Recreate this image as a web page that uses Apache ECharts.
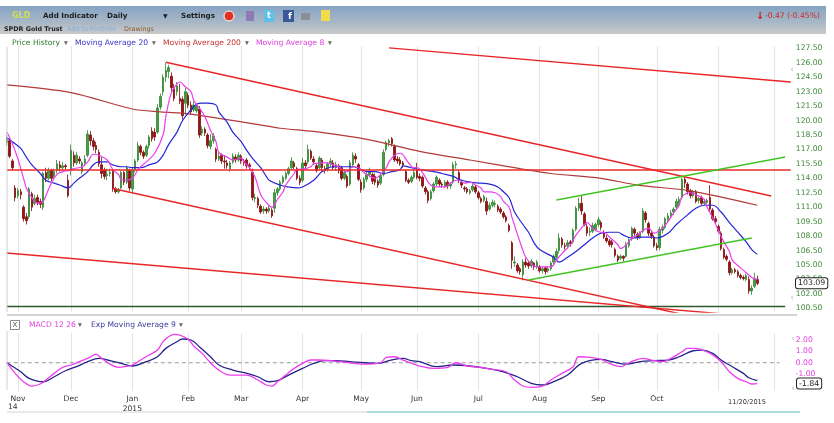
<!DOCTYPE html>
<html>
<head>
<meta charset="utf-8">
<script src="https://cdn.jsdelivr.net/npm/echarts@6/dist/echarts.min.js"></script>
<style>
html,body{margin:0;padding:0;background:#fff}
#main{width:834px;height:423px}
</style>
</head>
<body>
<div id="main"></div>
<script>
// GLD daily, 2014-10-28 .. 2015-11-20
var holidays = ['2014-11-27','2014-12-25','2015-01-01','2015-01-19','2015-02-16',
  '2015-04-03','2015-05-25','2015-07-03','2015-09-07','2015-11-26'];
var months = ['Jan','Feb','Mar','Apr','May','Jun','Jul','Aug','Sep','Oct','Nov','Dec'];

var opens = [
  117.7,117.9,115.8,113.0,112.2,112.6,111.0,110.0,110.0,112.4,
  111.4,112.0,111.6,111.0,114.6,114.0,114.8,114.2,114.8,115.4,
  115.1,115.3,113.8,114.9,116.4,115.6,116.0,114.7,115.6,116.4,
  118.5,117.9,117.4,116.7,115.4,114.8,114.3,114.5,114.7,112.9,
  112.6,113.0,114.6,113.6,114.8,112.9,114.9,115.9,117.3,116.7,
  116.4,117.4,118.9,118.8,118.8,121.4,123.0,124.5,125.1,124.6,
  123.3,123.0,122.3,122.2,121.8,122.6,121.6,121.1,121.0,121.2,
  118.7,119.1,118.5,117.3,117.9,117.0,116.0,116.4,115.8,115.6,
  115.0,115.7,116.2,115.9,116.3,115.8,115.9,115.4,114.6,111.9,
  111.9,111.1,110.6,110.8,110.6,110.7,110.9,112.5,112.9,113.6,
  114.0,114.5,115.1,115.6,115.0,114.0,113.8,115.6,115.7,116.8,
  116.0,115.3,115.1,115.9,115.0,114.9,115.5,115.6,115.1,115.3,
  115.1,114.0,114.2,113.4,115.4,116.3,115.4,113.6,113.0,113.9,
  114.4,114.4,114.2,113.7,113.5,114.4,117.0,117.7,118.1,117.3,
  116.0,115.9,115.6,114.7,113.8,113.7,114.1,114.8,114.2,114.1,
  113.0,112.6,111.9,112.7,113.4,113.8,113.4,113.2,113.6,113.2,
  113.6,115.4,114.6,113.6,113.0,112.9,112.5,112.8,113.1,112.5,
  111.9,111.7,111.6,110.8,111.2,111.3,111.1,110.8,110.4,110.0,
  109.1,107.3,105.2,105.0,104.6,104.0,105.3,105.2,104.9,105.2,
  104.8,104.8,104.4,104.7,104.4,104.6,105.3,105.8,106.5,107.7,
  107.0,107.0,107.4,107.4,108.7,110.9,111.4,110.3,109.0,108.4,
  108.5,108.7,109.2,109.4,108.4,107.8,107.5,107.4,106.6,105.9,
  105.7,105.9,105.9,107.0,107.7,108.7,108.2,107.9,108.5,110.4,
  109.3,108.3,107.9,107.0,106.8,108.6,108.9,109.7,110.1,110.5,
  111.0,111.4,112.0,113.9,113.4,112.7,112.2,112.6,111.7,112.0,
  111.4,111.5,112.0,110.7,109.8,109.0,108.3,106.6,105.9,105.3,
  104.2,104.5,104.3,103.9,103.7,103.5,103.5,102.3,102.8,103.5
];
var closes = [
  118.2,116.3,115.1,112.0,112.7,112.3,109.8,109.6,112.9,111.0,
  111.9,111.5,111.3,114.5,114.0,114.8,114.0,114.7,115.5,115.1,
  115.3,115.2,112.2,116.9,115.6,116.4,115.8,115.6,116.0,118.6,
  117.9,117.3,117.0,115.5,114.5,114.2,114.4,114.6,112.9,112.6,
  112.8,114.6,113.6,115.1,113.0,114.8,115.8,117.4,116.7,116.3,
  117.3,118.3,118.1,118.3,121.3,122.5,124.5,125.2,125.5,123.4,
  122.3,123.6,122.0,120.5,123.0,121.6,120.9,121.6,121.5,118.5,
  119.1,118.7,117.4,117.9,118.4,116.0,116.3,115.8,115.7,115.3,
  115.6,116.3,115.9,116.4,115.8,115.6,115.3,115.2,112.0,112.0,
  111.2,110.5,110.8,110.6,110.9,110.1,112.5,112.9,113.6,114.1,
  114.5,115.0,115.8,115.2,114.0,113.6,115.6,115.3,117.0,116.1,
  115.7,114.8,116.1,115.1,114.8,115.5,115.8,115.1,115.4,114.8,
  114.0,114.6,113.2,115.6,116.4,116.0,113.9,112.8,113.9,114.4,
  114.7,113.7,113.6,113.3,114.3,116.7,117.7,117.9,117.6,115.9,
  115.8,115.5,115.4,113.8,113.6,114.1,114.6,114.1,114.0,113.2,
  112.6,111.7,112.6,113.4,114.1,113.4,113.3,113.6,113.2,113.4,
  115.4,115.5,113.8,113.3,112.9,112.6,112.7,113.2,112.6,112.0,
  111.6,112.1,110.6,111.2,111.5,111.4,110.7,110.5,110.0,109.6,
  108.6,105.5,105.3,104.4,104.3,105.3,105.0,104.9,105.4,104.8,
  105.3,104.4,104.6,104.3,104.6,105.2,105.9,106.4,107.8,107.1,
  106.9,107.3,107.2,108.6,110.9,111.4,110.6,109.2,108.3,108.5,
  109.1,109.2,109.7,108.9,107.9,107.5,107.1,107.1,106.0,105.5,
  105.9,105.7,107.1,107.6,108.8,108.3,107.9,108.3,110.6,109.7,
  108.3,108.0,107.0,106.8,108.7,108.9,109.8,110.1,110.4,110.8,
  111.6,111.8,113.9,113.5,112.6,112.2,112.6,111.6,111.9,111.4,
  111.6,111.7,110.8,109.8,109.5,108.5,106.7,105.8,105.6,104.2,
  104.5,104.3,103.9,103.7,103.6,103.9,102.3,102.6,103.56,103.09
];
var lows = [
  117.4,116.1,114.8,111.6,111.9,111.8,109.5,109.2,109.8,110.6,
  111.2,111.2,110.9,110.7,113.6,113.8,113.7,113.9,114.5,114.7,
  114.8,114.9,112.0,114.3,115.2,115.4,115.5,114.4,115.3,116.2,
  117.4,116.9,116.6,115.2,114.0,113.9,113.8,114.2,112.6,112.4,
  112.4,112.9,113.3,113.4,112.7,112.5,114.6,115.7,116.4,116.0,
  116.2,117.1,117.8,117.9,118.6,121.1,122.6,124.0,124.4,122.9,
  122.0,122.6,121.7,120.1,120.6,121.3,120.6,120.9,120.8,118.2,
  118.4,118.4,117.1,117.0,117.6,115.7,115.8,115.5,115.0,115.0,
  114.7,115.5,115.6,115.7,115.5,115.3,115.0,114.9,111.7,111.5,
  110.9,110.3,110.3,110.3,110.4,109.9,110.4,112.2,112.7,113.4,
  113.8,114.3,114.9,114.9,113.8,113.3,113.6,115.0,115.5,115.9,
  115.4,114.6,114.9,114.8,114.5,114.7,115.2,114.9,114.8,114.5,
  113.8,113.8,113.0,113.2,115.1,115.6,113.7,112.5,112.8,113.6,
  114.1,113.4,113.3,113.0,113.3,114.2,116.8,117.3,117.3,115.7,
  115.5,115.3,115.1,113.6,113.4,113.5,113.9,113.9,113.7,113.0,
  112.3,111.4,111.7,112.5,113.2,113.1,113.0,113.0,112.9,112.9,
  113.4,115.0,113.5,113.0,112.6,112.4,112.3,112.6,112.4,111.8,
  111.4,111.5,110.2,110.6,111.0,111.0,110.5,110.3,109.8,109.4,
  108.4,104.6,104.8,104.2,104.0,103.4,104.7,104.6,104.7,104.5,
  104.6,104.2,104.1,104.0,104.2,104.4,105.1,105.6,106.2,106.8,
  106.6,106.7,106.9,107.2,108.5,110.6,110.2,109.0,108.0,108.0,
  108.3,108.5,109.0,108.6,107.7,107.3,106.9,106.8,105.8,105.3,
  105.5,105.4,105.8,106.8,107.5,108.0,107.6,107.7,108.3,109.4,
  108.0,107.7,106.8,106.5,106.5,108.3,108.7,109.4,109.8,110.2,
  110.8,111.1,111.8,113.0,112.3,111.9,112.0,111.4,111.4,111.2,
  111.2,111.2,110.5,109.6,109.3,108.3,106.5,105.6,105.4,103.9,
  104.0,104.1,103.7,103.5,103.4,103.3,102.0,101.9,102.6,102.9
];
var highs = [
  118.5,118.1,116.0,113.3,113.0,112.9,111.2,110.4,113.1,112.6,
  112.3,112.3,111.9,114.7,115.1,115.1,115.0,115.0,115.9,115.8,
  115.7,115.5,114.4,117.5,116.8,116.7,116.3,115.8,116.4,119.0,
  118.9,118.2,117.8,117.0,116.2,115.1,115.0,115.0,114.9,113.1,
  113.0,114.8,114.8,115.3,115.0,115.2,116.0,117.8,117.5,116.9,
  117.5,118.5,119.3,119.2,121.7,122.8,124.8,126.0,125.8,125.0,
  123.8,124.0,123.8,122.5,123.4,122.9,122.0,122.0,121.8,121.5,
  119.4,119.3,118.7,118.6,118.7,117.2,116.7,116.6,116.4,115.9,
  115.8,116.6,116.5,116.7,116.5,116.0,116.1,115.6,115.0,112.4,
  112.1,111.3,111.1,111.0,111.2,110.9,112.9,113.1,113.8,114.3,
  114.7,115.2,116.2,115.8,115.2,114.3,116.1,115.9,117.5,117.0,
  116.3,115.5,116.3,116.1,115.3,115.7,116.1,115.9,115.7,115.5,
  115.3,114.9,114.4,115.9,116.7,116.6,115.6,113.9,114.1,114.7,
  115.1,114.6,114.5,113.9,114.5,117.0,117.9,118.1,118.3,117.5,
  116.3,116.2,115.8,114.9,114.0,114.3,115.0,115.6,114.5,114.3,
  113.2,112.8,112.8,113.6,114.3,114.0,113.6,113.8,113.8,113.6,
  115.7,115.8,114.8,113.8,113.2,113.1,112.9,113.4,113.3,112.7,
  112.1,112.3,112.0,111.5,111.8,111.7,111.3,111.0,110.6,110.2,
  109.3,107.5,105.9,105.2,104.8,105.6,105.7,105.4,105.6,105.3,
  105.5,105.0,104.8,104.9,104.8,105.4,106.1,106.7,108.3,107.9,
  107.3,107.6,107.6,108.8,111.1,112.0,112.2,110.5,109.3,108.9,
  109.4,109.4,110.0,109.6,108.6,108.1,107.7,107.6,106.8,106.1,
  106.1,106.0,107.4,107.9,109.0,108.9,108.4,108.5,110.9,110.6,
  109.5,108.5,108.1,107.3,109.0,109.2,110.0,110.4,110.7,111.0,
  111.9,112.1,114.1,114.2,113.6,112.9,112.8,112.8,112.1,112.2,
  111.8,111.9,113.3,110.9,110.1,109.2,108.5,106.8,106.1,105.5,
  104.7,104.7,104.5,104.1,103.9,104.1,103.8,102.9,104.2,103.9
];

// indicator readings as [day index, value]
var ma8Pts = [[0,118.8],[2,117.6],[4,116.0],[6,114.0],[7,113.0],[9,112.0],[11,111.4],[13,111.6],
  [14,112.2],[16,113.5],[18,114.4],[20,114.7],[22,114.8],[24,115.0],[27,115.2],[29,115.7],[31,116.5],
  [33,116.4],[36,115.9],[38,114.9],[40,114.4],[41,113.9],[43,113.8],[45,114.0],[47,114.9],[48,115.2],
  [50,115.7],[53,116.6],[56,118.5],[57,120.4],[59,122.9],[61,123.8],[62,124.0],[64,123.5],[66,123.0],
  [67,122.1],[69,121.3],[71,120.4],[73,119.0],[75,117.8],[76,116.7],[79,116.2],[81,115.9],[84,116.1],
  [85,115.7],[87,115.1],[89,114.1],[91,112.3],[93,111.5],[95,111.0],[97,111.8],[99,112.6],[100,113.3],
  [103,114.5],[104,114.9],[107,115.0],[109,115.2],[110,115.5],[113,115.6],[115,115.6],[117,115.4],
  [119,115.2],[120,114.9],[122,114.7],[124,115.2],[126,115.1],[128,114.6],[129,114.4],[132,114.0],
  [134,114.4],[136,115.1],[137,115.7],[139,116.4],[141,116.6],[144,115.6],[146,115.1],[147,115.1],
  [149,114.6],[151,113.6],[152,113.3],[154,113.1],[157,113.1],[159,113.5],[161,113.8],[162,113.8],
  [164,113.5],[166,113.6],[168,113.3],[170,113.0],[171,112.6],[173,112.6],[175,112.5],[177,112.1],
  [178,111.6],[180,111.0],[181,110.0],[183,108.2],[185,106.5],[186,105.8],[188,105.1],[190,104.8],
  [191,104.8],[195,104.8],[197,105.5],[199,106.2],[202,107.1],[204,108.1],[207,109.2],[208,109.4],
  [210,108.8],[213,108.4],[214,108.4],[216,107.9],[219,107.1],[220,106.7],[222,107.1],[224,107.8],
  [226,108.1],[228,108.6],[230,108.8],[232,108.3],[233,108.4],[235,108.8],[237,109.5],[239,110.4],
  [241,111.2],[242,112.1],[245,112.5],[247,112.3],[250,111.8],[251,111.0],[253,109.9],[255,108.6],
  [257,107.4],[259,106.4],[260,105.5],[263,104.7],[265,104.2],[267,103.7],[269,103.5]];
var ma20Pts = [[0,118.2],[2,117.8],[5,117.1],[7,116.2],[9,115.4],[12,114.5],[14,113.8],[17,113.5],
  [19,113.3],[22,113.0],[24,113.5],[26,114.0],[29,114.7],[31,115.4],[33,115.7],[36,115.7],[38,115.4],
  [41,115.2],[43,115.2],[45,115.1],[48,115.1],[51,115.4],[54,115.7],[56,116.4],[58,117.5],[61,118.8],
  [63,120.0],[66,121.1],[68,121.7],[70,121.8],[72,121.8],[75,121.6],[76,120.9],[79,119.8],[81,118.8],
  [84,117.8],[86,116.9],[88,116.1],[91,115.1],[93,114.2],[94,113.8],[98,113.3],[101,113.1],[104,113.0],
  [106,113.1],[110,113.8],[113,114.7],[117,115.2],[120,115.2],[124,115.2],[127,114.9],[129,114.7],
  [132,114.7],[135,114.5],[138,114.7],[141,114.9],[142,115.3],[145,115.1],[148,114.9],[153,114.7],
  [156,114.5],[160,114.2],[162,113.9],[166,113.6],[170,113.5],[173,113.4],[176,113.1],[178,112.6],
  [180,112.0],[182,110.5],[185,109.2],[187,108.4],[189,107.3],[191,106.6],[196,105.8],[198,105.3],
  [201,105.8],[204,106.4],[207,107.1],[210,107.8],[213,108.3],[216,108.4],[219,108.4],[221,108.1],
  [224,107.8],[228,107.9],[231,107.9],[233,107.8],[237,108.3],[240,109.2],[244,110.2],[247,110.9],
  [250,111.2],[253,111.2],[256,110.5],[259,109.4],[262,108.4],[265,107.4],[267,106.6],[269,106.1]];
var ma200Pts = [[0,123.7],[23,122.9],[45,121.2],[55,120.9],[65,120.7],[72,120.4],[94,119.4],[98,119.2],
  [112,118.8],[130,118.0],[148,116.8],[166,115.9],[184,115.0],[195,114.5],[213,114.0],[226,113.3],
  [245,112.7],[269,111.2]];
var macdPts = [[0,0.0],[3,-0.94],[6,-1.68],[9,-2.06],[12,-1.88],[14,-1.53],[17,-0.94],[20,-0.41],
  [23,-0.2],[26,0.09],[29,0.39],[32,0.74],[34,0.39],[37,-0.12],[40,-0.41],[42,-0.35],[45,-0.2],
  [48,0.24],[51,0.68],[54,1.12],[56,1.86],[58,2.3],[60,2.51],[62,2.45],[65,2.07],[67,1.48],[70,0.83],
  [73,0.0],[76,-0.65],[80,-1.09],[84,-1.09],[86,-1.09],[90,-1.53],[93,-1.97],[95,-2.06],[97,-1.68],
  [100,-1.09],[103,-0.5],[106,-0.06],[109,0.24],[112,0.24],[116,0.18],[119,0.09],[123,0.0],
  [127,-0.12],[130,-0.12],[134,0.0],[136,0.47],[139,0.53],[142,0.24],[146,-0.12],[148,-0.29],
  [153,-0.5],[158,-0.41],[161,0.0],[165,-0.29],[170,-0.41],[174,-0.59],[179,-0.8],[182,-1.53],
  [185,-2.06],[188,-2.18],[192,-2.06],[195,-1.53],[199,-0.94],[203,-0.35],[205,0.53],[209,0.47],
  [213,0.3],[216,-0.06],[220,-0.35],[223,0.0],[228,0.39],[231,0.24],[235,0.09],[238,0.39],[242,0.97],
  [244,1.27],[247,1.27],[250,1.06],[253,0.68],[256,0.09],[259,-0.8],[262,-1.38],[265,-1.68],
  [267,-1.88],[269,-1.84]];
var signalPts = [[0,0.0],[5,-0.8],[8,-1.38],[13,-1.68],[17,-1.24],[21,-0.71],[25,-0.35],[29,0.09],
  [33,0.39],[37,0.18],[41,-0.06],[45,-0.29],[50,0.09],[54,0.53],[57,1.27],[61,1.86],[63,2.1],
  [66,2.01],[69,1.42],[73,0.53],[76,-0.2],[81,-0.65],[85,-0.88],[90,-1.24],[94,-1.68],[97,-1.59],
  [101,-1.09],[106,-0.5],[110,-0.06],[114,0.18],[118,0.18],[123,0.09],[128,0.0],[133,-0.06],
  [137,0.18],[142,0.39],[145,0.18],[148,0.1],[154,-0.35],[160,-0.2],[166,-0.29],[172,-0.5],
  [178,-0.8],[183,-1.24],[188,-1.82],[192,-1.97],[196,-1.68],[201,-1.09],[206,-0.06],[213,0.3],
  [217,0.09],[222,-0.12],[227,0.09],[232,0.18],[237,0.24],[241,0.53],[246,1.06],[249,1.12],
  [253,0.83],[256,0.24],[260,-0.35],[264,-0.94],[266,-1.33],[269,-1.59]];

// drawings: trend lines as [day index, price]
var redChannelTop = [[57,126.05],[274,112.16]];
var redChannelBottom = [[38,112.94],[250,99.37]];
var redLongTop = [[137,127.55],[281,124.0]];
var redLongBottom = [[0,106.24],[281,99.32]];
var greenUpper = [[197,111.75],[279,116.21]];
var greenLower = [[187,103.44],[267,107.8]];
var redLevel = [[0,114.86],[281,114.86]];
var baseLevel = [[0,100.69],[279,100.69]];
var macdZero = [[0,0],[277,0]];

var priceTicks = [100.5,102,103.5,105,106.5,108,109.5,111,112.5,114,115.5,117,118.5,120,121.5,123,124.5,126,127.5];
var macdTicks = [-1,0,1,2];

// trading calendar
var dates = [];
(function () {
  var d = new Date(Date.UTC(2014, 9, 28));
  var end = Date.UTC(2015, 11, 9);
  while (d.getTime() <= end) {
    var s = d.toISOString().slice(0, 10);
    var wd = d.getUTCDay();
    if (wd !== 0 && wd !== 6 && holidays.indexOf(s) < 0) dates.push(s);
    d.setUTCDate(d.getUTCDate() + 1);
  }
})();
var lastIdx = closes.length - 1;
var lastMonth = dates[lastIdx].slice(0, 7);   // current month gets the date stamp instead

var ohlc = opens.map(function (o, i) {
  return [o, closes[i], lows[i], highs[i]];
});

function monthStart(i) {
  return i > 0 && dates[i].slice(5, 7) !== dates[i - 1].slice(5, 7);
}

var F = 'DejaVu Sans, Verdana, sans-serif';
var chart = echarts.init(document.getElementById('main'));

function lineSeries(data, color, width, extra) {
  var s = {
    type: 'line', data: data, xAxisIndex: 0, yAxisIndex: 0,
    symbol: 'none', silent: true,
    lineStyle: { color: color, width: width }
  };
  for (var k in extra) s[k] = extra[k];
  return s;
}
var circles = {
  symbol: 'emptyCircle', symbolSize: 5, showSymbol: true,
  itemStyle: { color: '#6a6a6a', borderWidth: 1 }
};

chart.setOption({
  animation: false,
  grid: [
    { left: 6.8, right: 43.2, top: 46, height: 266 },
    { left: 6.8, right: 43.2, top: 333, height: 58 }
  ],
  xAxis: [
    {
      type: 'category', gridIndex: 0, data: dates, boundaryGap: false,
      axisLine: { show: false }, axisTick: { show: false }, axisLabel: { show: false },
      splitLine: { show: true, interval: function (i) { return monthStart(i); },
        lineStyle: { color: '#e4e4e4', width: 1 } }
    },
    {
      type: 'category', gridIndex: 1, data: dates, boundaryGap: false,
      axisLine: { show: false }, axisTick: { show: false },
      axisLabel: {
        interval: function (i) { return monthStart(i) && dates[i].slice(0, 7) < lastMonth; },
        formatter: function (v, i) {
          if (v.slice(0, 7) >= lastMonth) return '';
          var m = +v.slice(5, 7) - 1;
          return m === 0 ? 'Jan\n2015' : months[m];
        },
        color: '#333', fontSize: 7.6, fontFamily: F, margin: 3, lineHeight: 10
      },
      splitLine: { show: true, interval: function (i) { return monthStart(i); },
        lineStyle: { color: '#e4e4e4', width: 1 } }
    }
  ],
  yAxis: [
    {
      type: 'value', gridIndex: 0, position: 'right', min: 100.116, max: 127.74,
      splitLine: { show: false }, axisLine: { show: false }, axisTick: { show: false },
      axisLabel: {
        customValues: priceTicks,
        formatter: function (v) { return v.toFixed(2); },
        color: '#3d8a37', fontSize: 7.6, fontFamily: F, margin: 5
      }
    },
    {
      type: 'value', gridIndex: 1, position: 'right', min: -2.5, max: 2.63,
      splitLine: { show: false }, axisLine: { show: false }, axisTick: { show: false },
      axisLabel: {
        customValues: macdTicks,
        formatter: function (v) { return v.toFixed(2); },
        color: '#e23ee2', fontSize: 7.6, fontFamily: F, margin: 5
      }
    }
  ],
  series: [
    {
      type: 'candlestick', xAxisIndex: 0, yAxisIndex: 0, data: ohlc,
      barWidth: 2, silent: true,
      itemStyle: { color: '#43a043', color0: '#9b1414', borderColor: '#2f852f',
        borderColor0: '#7f0a0a', borderWidth: 0.8 }
    },
    lineSeries(ma200Pts, '#b23a3a', 1.2, { smooth: 0.3 }),
    lineSeries(ma20Pts, '#2626d6', 1.2, { smooth: 0.4 }),
    lineSeries(ma8Pts, '#ee3dee', 1.2, { smooth: 0.4 }),
    lineSeries(redLevel, '#ee2a2a', 1.5),
    lineSeries(baseLevel, '#2d5a2d', 1.5),
    lineSeries(redLongTop, '#e82626', 1.4),
    lineSeries(redLongBottom, '#e82626', 1.4),
    lineSeries(redChannelBottom, '#e82626', 1.4),
    lineSeries(redChannelTop, '#e82626', 1.4, circles),
    lineSeries(greenUpper, '#40c423', 1.4, circles),
    lineSeries(greenLower, '#40c423', 1.4, circles),
    {
      type: 'line', data: macdZero, xAxisIndex: 1, yAxisIndex: 1, symbol: 'none', silent: true,
      lineStyle: { color: '#9a9a9a', width: 1, type: [4, 3] }
    },
    {
      type: 'line', data: signalPts, xAxisIndex: 1, yAxisIndex: 1, symbol: 'none', silent: true,
      smooth: 0.4, lineStyle: { color: '#23238a', width: 1.3 }
    },
    {
      type: 'line', data: macdPts, xAxisIndex: 1, yAxisIndex: 1, symbol: 'none', silent: true,
      smooth: 0.4, lineStyle: { color: '#ee3dee', width: 1.3 }
    }
  ]
});

// overlay: toolbar, legends, frame, value boxes
var yClose = chart.convertToPixel({ yAxisIndex: 0 }, closes[lastIdx]);
var yMacd = chart.convertToPixel({ yAxisIndex: 1 }, macdPts[macdPts.length - 1][1]);

function txt(t, x, y, color, size, weight, align) {
  return {
    type: 'text', silent: true, z: 100,
    style: { text: t, x: x, y: y, fill: color, fontSize: size, fontFamily: F,
      fontWeight: weight || 'normal', align: align || 'left', verticalAlign: 'middle' }
  };
}
function hline(x1, x2, y, color, w) {
  return { type: 'line', silent: true, z: 90,
    shape: { x1: x1, y1: y, x2: x2, y2: y }, style: { stroke: color, lineWidth: w || 1 } };
}
function vline(x, y1, y2, color) {
  return { type: 'line', silent: true, z: 90,
    shape: { x1: x, y1: y1, x2: x, y2: y2 }, style: { stroke: color, lineWidth: 1 } };
}
function rect(x, y, w, h, fill, stroke) {
  return { type: 'rect', silent: true, z: 95, shape: { x: x, y: y, width: w, height: h },
    style: { fill: fill, stroke: stroke || null, lineWidth: 1 } };
}

chart.setOption({
  graphic: [
    { type: 'rect', silent: true, z: 80, shape: { x: 0, y: 6, width: 826, height: 28 },
      style: { fill: new echarts.graphic.LinearGradient(0, 0, 0, 1, [
        { offset: 0, color: '#86a4c4' }, { offset: 0.6, color: '#a9b8c6' }, { offset: 1, color: '#cacaca' }]) } },
    txt('GLD', 12, 16, '#d3de55', 8, 'bold'),
    txt('Add Indicator', 43, 16, '#1e1e1e', 7.2, 'bold'),
    txt('Daily', 107, 16, '#1e1e1e', 7.2, 'bold'),
    txt('\u25BC', 163, 16, '#1e1e1e', 6),
    txt('Settings', 181, 16, '#1e1e1e', 7.2, 'bold'),
    { type: 'circle', silent: true, z: 95, shape: { cx: 229, cy: 16, r: 5 }, style: { fill: '#e0321f', stroke: '#fff', lineWidth: 1 } },
    rect(246, 11, 8, 10, '#8e7ab4'),
    rect(264, 10, 10, 12, '#5cc2ea'),
    txt('t', 269, 16, '#fff', 8, 'bold', 'center'),
    rect(283, 10, 11, 12, '#3b5998'),
    txt('f', 290, 17, '#fff', 9, 'bold', 'center'),
    rect(301, 13, 9, 7, '#8a8f96'),
    rect(321, 10, 9, 11, '#f2d94e'),
    txt('SPDR Gold Trust', 4, 29, '#222', 6.4, 'bold'),
    txt('Add to Portfolio', 67, 29, '#84aee0', 6.4),
    txt('Drawings', 124, 29, '#8a5a2a', 6.4),
    txt('\u2193', 760, 16, '#cc1a1a', 10, 'bold', 'center'),
    txt('-0.47 (-0.45%)', 765, 16, '#d02525', 7.6),

    txt('Price History', 12, 43, '#2e7a2e', 7.6),
    txt('\u25BE', 64, 43, '#666', 7.6),
    txt('Moving Average 20', 75, 43, '#3535c8', 7.6),
    txt('\u25BE', 152, 43, '#666', 7.6),
    txt('Moving Average 200', 163, 43, '#c83030', 7.6),
    txt('\u25BE', 245, 43, '#666', 7.6),
    txt('Moving Average 8', 256, 43, '#e040e0', 7.6),
    txt('\u25BE', 328, 43, '#666', 7.6),

    vline(7, 47, 312, '#cfcfcf'),
    vline(7, 331, 390, '#cfcfcf'),
    hline(7, 797, 315, '#a8a8a8', 1),
    rect(10.5, 320.5, 9, 9, '#fff', '#8a8a8a'),
    txt('X', 15, 325.5, '#555', 7, 'normal', 'center'),
    txt('MACD 12 26', 29, 325, '#e040e0', 7.6),
    txt('\u25BE', 78, 325, '#666', 7.6),
    txt('Exp Moving Average 9', 91, 325, '#3a3a9a', 7.6),
    txt('\u25BE', 179, 325, '#666', 7.6),

    txt('14', 8, 407.5, '#333', 7.6),
    txt('11/20/2015', 728, 402, '#333', 6.6),
    hline(7, 367, 412, '#d4d4d4', 1),
    hline(367, 800, 412, '#a9d9d9', 2),

    txt('\u2039', 792, 70, '#b0b0b0', 8, 'normal', 'center'),
    txt('\u2039', 792, 298, '#b0b0b0', 8, 'normal', 'center'),
    txt('\u2039', 793, 339, '#b0b0b0', 8, 'normal', 'center'),
    txt('\u2039', 793, 389, '#b0b0b0', 8, 'normal', 'center'),

    { type: 'text', silent: true, z: 110,
      style: { text: closes[lastIdx].toFixed(2), x: 796, y: yClose, fill: '#222', fontSize: 7.8,
        fontFamily: F, align: 'left', verticalAlign: 'middle', backgroundColor: '#fff',
        borderColor: '#222', borderWidth: 1, borderRadius: 2, padding: [1, 2, 1, 2] } },
    { type: 'text', silent: true, z: 110,
      style: { text: macdPts[macdPts.length - 1][1].toFixed(2), x: 797, y: yMacd, fill: '#222', fontSize: 7.8,
        fontFamily: F, align: 'left', verticalAlign: 'middle', backgroundColor: '#fff',
        borderColor: '#222', borderWidth: 1, borderRadius: 2, padding: [1, 2, 1, 2] } }
  ]
});
</script>
</body>
</html>
